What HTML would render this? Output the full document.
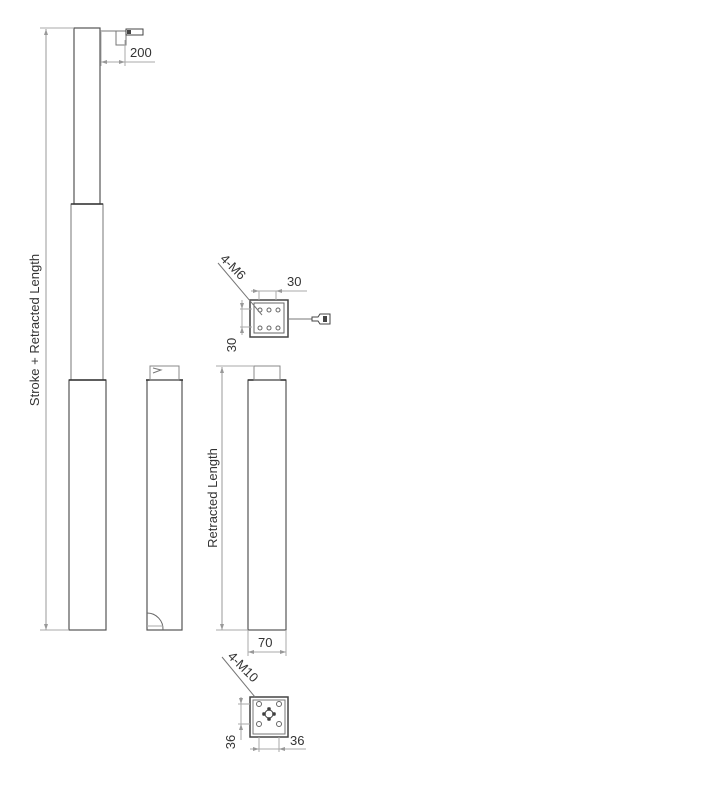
<!DOCTYPE html>
<html><head><style>
html,body{margin:0;padding:0;background:#fff;}
svg text{font-family:"Liberation Sans",sans-serif;fill:#333;}
</style></head><body>
<svg width="720" height="782" viewBox="0 0 720 782" xmlns="http://www.w3.org/2000/svg">
<g fill="none" stroke="#666" stroke-width="1">
<!-- column 1 -->
<rect x="74" y="28" width="26" height="176" stroke="#555" stroke-width="1.2"/>
<rect x="71" y="204" width="32" height="176" stroke="#777"/>
<line x1="71" y1="204" x2="103" y2="204" stroke="#333" stroke-width="1.5"/>
<rect x="69" y="380" width="37" height="250" stroke="#555" stroke-width="1.2"/>
<line x1="69" y1="380" x2="106" y2="380" stroke="#333" stroke-width="1.5"/>
<line x1="46" y1="29" x2="46" y2="630" stroke="#999"/>
<line x1="40" y1="630" x2="69" y2="630" stroke="#aaa"/>
<line x1="40" y1="28" x2="74" y2="28" stroke="#aaa"/>
<path d="M46 29 l-2 6 h4z M46 630 l-2 -6 h4z" fill="#999" stroke="none"/>
<!-- cable -->
<line x1="100" y1="31" x2="126" y2="31" stroke="#777"/>
<rect x="116" y="31" width="10" height="14" stroke="#777"/>
<path d="M126 29 h17 v6 h-17z" stroke="#444"/>
<rect x="127" y="30" width="4" height="4" fill="#444" stroke="none"/>
<line x1="101" y1="32" x2="101" y2="66" stroke="#aaa"/>
<line x1="125" y1="40" x2="125" y2="66" stroke="#aaa"/>
<line x1="101" y1="62" x2="155" y2="62" stroke="#aaa"/>
<path d="M101 62 l6 -2 v4z M125 62 l-6 -2 v4z" fill="#999" stroke="none"/>
<!-- column 2 -->
<rect x="147" y="380" width="35" height="250" stroke="#555" stroke-width="1.2"/>
<line x1="146" y1="380" x2="183" y2="380" stroke="#333" stroke-width="1.5"/>
<rect x="150" y="366" width="29" height="14" stroke="#888"/>
<path d="M153 368 l8 2 -8 3" stroke="#777"/>
<path d="M147 613 a16 16 0 0 1 16 17" stroke="#666"/>
<line x1="147" y1="626" x2="163" y2="626" stroke="#aaa"/>
<!-- column 3 -->
<rect x="248" y="380" width="38" height="250" stroke="#555" stroke-width="1.2"/>
<line x1="248" y1="380" x2="286" y2="380" stroke="#333" stroke-width="1.5"/>
<rect x="254" y="366" width="26" height="14" stroke="#888"/>
<line x1="222" y1="367" x2="222" y2="630" stroke="#999"/>
<line x1="216" y1="366" x2="254" y2="366" stroke="#aaa"/>
<line x1="216" y1="630" x2="248" y2="630" stroke="#aaa"/>
<path d="M222 367 l-2 6 h4z M222 630 l-2 -6 h4z" fill="#999" stroke="none"/>
<line x1="248" y1="630" x2="248" y2="656" stroke="#aaa"/>
<line x1="286" y1="630" x2="286" y2="656" stroke="#aaa"/>
<line x1="248" y1="652" x2="286" y2="652" stroke="#aaa"/>
<path d="M248 652 l6 -2 v4z M286 652 l-6 -2 v4z" fill="#999" stroke="none"/>
<!-- top view -->
<rect x="250" y="300" width="38" height="37" stroke="#444" stroke-width="1.5"/>
<rect x="254" y="303" width="30" height="30" stroke="#666"/>
<line x1="288" y1="319" x2="312" y2="319" stroke="#777"/>
<path d="M312 317 h6 l2 -3 h10 v10 h-10 l-2 -3 h-6z" stroke="#444"/>
<rect x="323" y="316" width="4" height="6" fill="#444" stroke="none"/>
<circle cx="260" cy="310" r="2"/><circle cx="269" cy="310" r="2"/><circle cx="278" cy="310" r="2"/>
<circle cx="260" cy="328" r="2"/><circle cx="269" cy="328" r="2"/><circle cx="278" cy="328" r="2"/>
<line x1="218" y1="263" x2="262" y2="315" stroke="#777"/>
<line x1="259" y1="291" x2="259" y2="300" stroke="#aaa"/>
<line x1="276" y1="291" x2="276" y2="300" stroke="#aaa"/>
<line x1="251" y1="291" x2="307" y2="291" stroke="#aaa"/>
<path d="M259 291 l-6 -2 v4z M276 291 l6 -2 v4z" fill="#999" stroke="none"/>
<line x1="240" y1="309" x2="252" y2="309" stroke="#aaa"/>
<line x1="240" y1="327" x2="252" y2="327" stroke="#aaa"/>
<line x1="242" y1="300" x2="242" y2="335" stroke="#aaa"/>
<path d="M242 309 l-2 -6 h4z M242 327 l-2 6 h4z" fill="#999" stroke="none"/>
<!-- bottom view -->
<rect x="250" y="697" width="38" height="40" stroke="#444" stroke-width="1.5"/>
<rect x="253" y="700" width="32" height="34" stroke="#777"/>
<circle cx="259" cy="704" r="2.5"/><circle cx="279" cy="704" r="2.5"/>
<circle cx="259" cy="724" r="2.5"/><circle cx="279" cy="724" r="2.5"/>
<circle cx="269" cy="714" r="4" stroke="#333"/>
<circle cx="269" cy="709" r="1.5" fill="#333"/><circle cx="269" cy="719" r="1.5" fill="#333"/>
<circle cx="264" cy="714" r="1.5" fill="#333"/><circle cx="274" cy="714" r="1.5" fill="#333"/>
<line x1="222" y1="657" x2="255" y2="697" stroke="#777"/>
<line x1="238" y1="704" x2="250" y2="704" stroke="#aaa"/>
<line x1="238" y1="724" x2="250" y2="724" stroke="#aaa"/>
<line x1="241" y1="697" x2="241" y2="740" stroke="#aaa"/>
<path d="M241 704 l-2 -6 h4z M241 724 l-2 6 h4z" fill="#999" stroke="none"/>
<line x1="259" y1="737" x2="259" y2="752" stroke="#aaa"/>
<line x1="279" y1="737" x2="279" y2="752" stroke="#aaa"/>
<line x1="250" y1="749" x2="306" y2="749" stroke="#aaa"/>
<path d="M259 749 l-6 -2 v4z M279 749 l6 -2 v4z" fill="#999" stroke="none"/>
</g>
<g font-size="13">
<text x="130" y="57">200</text>
<text x="0" y="0" transform="translate(39,330) rotate(-90)" text-anchor="middle">Stroke + Retracted Length</text>
<text x="0" y="0" transform="translate(217,498) rotate(-90)" text-anchor="middle">Retracted Length</text>
<text x="258" y="647">70</text>
<text x="287" y="286">30</text>
<text x="0" y="0" transform="translate(236,345) rotate(-90)" text-anchor="middle">30</text>
<text x="0" y="0" transform="translate(230,270) rotate(45)" text-anchor="middle">4-M6</text>
<text x="0" y="0" transform="translate(240,670) rotate(45)" text-anchor="middle">4-M10</text>
<text x="0" y="0" transform="translate(235,742) rotate(-90)" text-anchor="middle">36</text>
<text x="290" y="745">36</text>
</g>
</svg>
</body></html>
